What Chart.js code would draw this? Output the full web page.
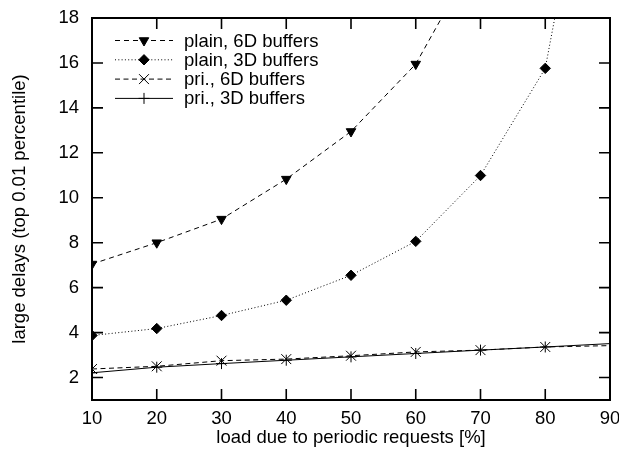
<!DOCTYPE html>
<html>
<head>
<meta charset="utf-8">
<script src="https://cdn.jsdelivr.net/npm/chart.js@4.4.1/dist/chart.umd.min.js"></script>
<style>
  html, body { margin: 0; padding: 0; background: #fff; }
  #wrap { width: 619px; height: 450px; }
</style>
</head>
<body>
<div id="wrap"><canvas id="myChart"></canvas></div>
<script>
// load [%] on the x axis
var loads = [10, 20, 30, 40, 50, 60, 70, 80, 90];
// large delays
var plain6D = [7.05, 8.0, 9.05, 10.83, 12.95, 15.95, 21.1];
var plain3D = [3.87, 4.18, 4.76, 5.44, 6.55, 8.06, 10.99, 15.76, 31];
var pri6D = [2.38, 2.5, 2.75, 2.82, 2.97, 3.14, 3.22, 3.36, 3.42];
var pri3D = [2.21, 2.46, 2.62, 2.77, 2.92, 3.07, 3.22, 3.36, 3.51];
var seriesLabels = ['plain, 6D buffers', 'plain, 3D buffers', 'pri., 6D buffers', 'pri., 3D buffers'];
var xTicks = [10, 20, 30, 40, 50, 60, 70, 80, 90];
var yTicks = [2, 4, 6, 8, 10, 12, 14, 16, 18];

var FONT = 'Liberation Sans, Arial, Helvetica, sans-serif';
var FS = 18.5;

function toPoints(ys) {
    return ys.map(function (y, i) { return { x: loads[i], y: y }; });
}

// gnuplot does not draw the markers sitting on the right border
function radiusFor(r) {
    return function (c) { return (c.raw && c.raw.x >= 90) ? 0 : r; };
}

var series = [
    { data: plain6D, style: 'triangle', rot: 180, r: 5.5, dash: [5, 4] },
    { data: plain3D, style: 'rectRot', rot: 0, r: 5.2, dash: [1, 2.3] },
    { data: pri6D, style: 'crossRot', rot: 0, r: 7, dash: [5, 3.5] },
    { data: pri3D, style: 'cross', rot: 0, r: 5.5, dash: [] }
];

var datasets = series.map(function (s, i) {
    return {
        label: seriesLabels[i],
        data: toPoints(s.data),
        borderColor: '#000',
        backgroundColor: '#000',
        borderWidth: 1,
        borderDash: s.dash,
        tension: 0,
        fill: false,
        pointStyle: s.style,
        rotation: s.rot,
        pointRadius: radiusFor(s.r),
        pointBorderWidth: 1,
        pointBorderColor: '#000',
        pointBackgroundColor: '#000',
        markerRadius: s.r
    };
});

// frame + inward ticks on all four sides, like gnuplot
var framePlugin = {
    id: 'frame',
    afterDatasetsDraw: function (chart) {
        var a = chart.chartArea, ctx = chart.ctx;
        var xs = chart.scales.x, ys = chart.scales.y;
        var tl = 11;
        ctx.save();
        ctx.strokeStyle = '#000';
        ctx.lineWidth = 1.6;
        ctx.beginPath();
        xTicks.forEach(function (v) {
            var px = xs.getPixelForValue(v);
            ctx.moveTo(px, a.bottom); ctx.lineTo(px, a.bottom - tl);
            ctx.moveTo(px, a.top); ctx.lineTo(px, a.top + tl);
        });
        yTicks.forEach(function (v) {
            var py = ys.getPixelForValue(v);
            ctx.moveTo(a.left, py); ctx.lineTo(a.left + tl, py);
            ctx.moveTo(a.right, py); ctx.lineTo(a.right - tl, py);
        });
        ctx.stroke();
        ctx.lineWidth = 2;
        ctx.strokeRect(a.left, a.top, a.right - a.left, a.bottom - a.top);
        ctx.restore();
    },
    afterDraw: function (chart) {
        // key in the top left corner, sample line then text
        var a = chart.chartArea, ctx = chart.ctx;
        ctx.save();
        chart.data.datasets.forEach(function (ds, i) {
            var y = a.top + 22.5 + i * 19.3;
            var x0 = a.left + 23, x1 = a.left + 81, xm = a.left + 52;
            ctx.strokeStyle = '#000';
            ctx.lineWidth = 1;
            ctx.setLineDash(ds.borderDash);
            ctx.beginPath();
            ctx.moveTo(x0, y); ctx.lineTo(x1, y);
            ctx.stroke();
            ctx.setLineDash([]);
            ctx.fillStyle = '#000';
            Chart.helpers.drawPoint(ctx, {
                pointStyle: ds.pointStyle,
                radius: ds.markerRadius,
                rotation: ds.rotation,
                borderWidth: 1
            }, xm, y);
            ctx.font = FS + 'px ' + FONT;
            ctx.textBaseline = 'middle';
            ctx.textAlign = 'left';
            ctx.fillText(ds.label, a.left + 92, y + 1);
        });
        ctx.restore();
    }
};

var ctx = document.getElementById('myChart').getContext('2d');
var myChart = new Chart(ctx, {
    type: 'line',
    data: { datasets: datasets },
    options: {
        responsive: true,
        maintainAspectRatio: false,
        animation: false,
        layout: { padding: { top: 18, right: 9, left: 0, bottom: 0 } },
        plugins: {
            legend: { display: false },
            tooltip: { enabled: false }
        },
        scales: {
            x: {
                type: 'linear',
                min: 10,
                max: 90,
                grid: { display: false, drawTicks: false },
                border: { display: false },
                afterBuildTicks: function (scale) {
                    scale.ticks = xTicks.map(function (v) { return { value: v }; });
                },
                afterFit: function (scale) {
                    scale.height = 50;
                    // let the "90" run past the frame like the original
                    scale.paddingLeft = 0;
                    scale.paddingRight = 0;
                },
                ticks: {
                    color: '#000',
                    padding: 8,
                    maxRotation: 0,
                    font: { family: FONT, size: FS }
                },
                title: {
                    display: true,
                    text: 'load due to periodic requests [%]',
                    color: '#000',
                    font: { family: FONT, size: FS },
                    padding: { top: 0, bottom: 1 }
                }
            },
            y: {
                min: 1,
                max: 18,
                grid: { display: false, drawTicks: false },
                border: { display: false },
                afterBuildTicks: function (scale) {
                    scale.ticks = yTicks.map(function (v) { return { value: v }; });
                },
                afterFit: function (scale) {
                    scale.width = 92;
                    scale.paddingTop = 0;
                    scale.paddingBottom = 0;
                },
                ticks: {
                    color: '#000',
                    padding: 13,
                    font: { family: FONT, size: FS }
                },
                title: {
                    display: true,
                    text: 'large delays (top 0.01 percentile)',
                    color: '#000',
                    font: { family: FONT, size: FS },
                    padding: { top: 9, bottom: 0 }
                }
            }
        }
    },
    plugins: [framePlugin]
});
</script>
</body>
</html>
